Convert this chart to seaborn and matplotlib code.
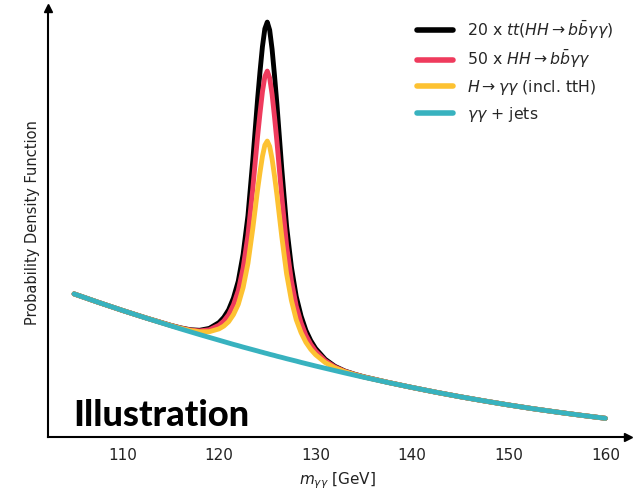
import numpy as np
import pandas as pd
import seaborn as sns
import matplotlib.pyplot as plt

# diphoton mass grid (GeV) and curve heights (arbitrary units)
mass = [105, 107.5, 110, 112.5, 115, 116, 117, 118, 119, 120,
        120.5, 121, 121.5, 122, 122.5, 123, 123.5, 124, 124.25, 124.5,
        124.75, 125, 125.25, 125.5, 125.75, 126, 126.5, 127, 127.5, 128,
        128.5, 129, 129.5, 130, 131, 132, 133, 134, 135, 137.5,
        140, 142.5, 145, 147.5, 150, 152.5, 155, 157.5, 160]

tthh = [1.430, 1.346, 1.265, 1.188, 1.116, 1.091, 1.072, 1.066, 1.085, 1.143,
        1.195, 1.271, 1.389, 1.558, 1.826, 2.211, 2.762, 3.378, 3.653, 3.902,
        4.081, 4.148, 4.068, 3.876, 3.615, 3.326, 2.685, 2.108, 1.698, 1.404,
        1.209, 1.065, 0.963, 0.885, 0.776, 0.706, 0.660, 0.628, 0.601, 0.545,
        0.494, 0.446, 0.401, 0.359, 0.319, 0.282, 0.248, 0.216, 0.186]

hh = [1.430, 1.346, 1.265, 1.188, 1.115, 1.089, 1.069, 1.060, 1.071, 1.117,
      1.159, 1.222, 1.321, 1.463, 1.689, 2.015, 2.482, 3.006, 3.239, 3.451,
      3.602, 3.658, 3.589, 3.425, 3.201, 2.954, 2.405, 1.912, 1.561, 1.309,
      1.141, 1.016, 0.927, 0.859, 0.762, 0.700, 0.657, 0.626, 0.600, 0.545,
      0.494, 0.446, 0.401, 0.359, 0.319, 0.282, 0.248, 0.216, 0.186]

hgg = [1.430, 1.346, 1.265, 1.188, 1.114, 1.087, 1.065, 1.051, 1.052, 1.080,
       1.108, 1.152, 1.223, 1.326, 1.493, 1.735, 2.083, 2.474, 2.648, 2.805,
       2.917, 2.958, 2.904, 2.779, 2.610, 2.422, 2.006, 1.632, 1.365, 1.172,
       1.043, 0.946, 0.876, 0.822, 0.743, 0.691, 0.653, 0.624, 0.599, 0.545,
       0.494, 0.446, 0.401, 0.359, 0.319, 0.282, 0.248, 0.216, 0.186]

bkg = [1.430, 1.346, 1.265, 1.187, 1.111, 1.081, 1.052, 1.023, 0.995, 0.967,
       0.953, 0.939, 0.925, 0.912, 0.898, 0.885, 0.872, 0.859, 0.852, 0.846,
       0.839, 0.833, 0.826, 0.820, 0.814, 0.807, 0.795, 0.782, 0.770, 0.758,
       0.745, 0.733, 0.721, 0.709, 0.686, 0.663, 0.640, 0.618, 0.596, 0.544,
       0.494, 0.446, 0.401, 0.359, 0.319, 0.282, 0.248, 0.216, 0.186]

labels = [r'20 x $tt(HH\rightarrow b\bar{b}\gamma\gamma)$',
          r'50 x $HH\rightarrow b\bar{b}\gamma\gamma$',
          r'$H\rightarrow\gamma\gamma$ (incl. ttH)',
          r'$\gamma\gamma$ + jets']
colors = ['#000000', '#ef3b5d', '#fdc232', '#38b2bf']
xticks = [110, 120, 130, 140, 150, 160]

sns.set_style('white')
plt.rcParams['font.family'] = ['DejaVu Sans']

df = pd.concat([
    pd.DataFrame({'mass': mass, 'pdf': vals, 'sample': lab})
    for vals, lab in zip([tthh, hh, hgg, bkg], labels)
])

fig = plt.figure(figsize=(6.44, 4.92), dpi=100)
ax = fig.add_axes([0.0745, 0.112, 0.900, 0.872])

sns.lineplot(data=df, x='mass', y='pdf', hue='sample', hue_order=labels,
             palette=colors, linewidth=3.5, sort=False, ax=ax, legend=False)

ax.set_xlim(102.3, 162.3)
ax.set_ylim(0, 4.29)
ax.set_xticks(xticks)
ax.set_yticks([])
ax.tick_params(axis='x', length=0, labelsize=11, labelcolor='#222222', pad=8)
ax.set_xlabel(r'$m_{\gamma\gamma}$ [GeV]', fontsize=11, color='#222222', labelpad=5)
ax.set_ylabel('Probability Density Function', fontsize=10.5, color='#222222', labelpad=6)

sns.despine(ax=ax)
for s in ['left', 'bottom']:
    ax.spines[s].set_linewidth(1.5)
    ax.spines[s].set_color('black')
ax.plot(1, 0, '>k', ms=6, transform=ax.transAxes, clip_on=False)
ax.plot(0, 1, '^k', ms=6, transform=ax.transAxes, clip_on=False)

handles = [plt.Line2D([], [], color=c, lw=4) for c in colors]
ax.legend(handles, labels, loc='upper right', bbox_to_anchor=(1.0, 1.008),
          frameon=False, fontsize=11.3, handlelength=2.3, labelspacing=0.48,
          handletextpad=0.9)

ax.text(0.043, 0.025, 'Illustration', transform=ax.transAxes, color='black',
        family='Lato', fontweight='black', fontsize=26, va='baseline')

fig.savefig('out.png', dpi=100)
